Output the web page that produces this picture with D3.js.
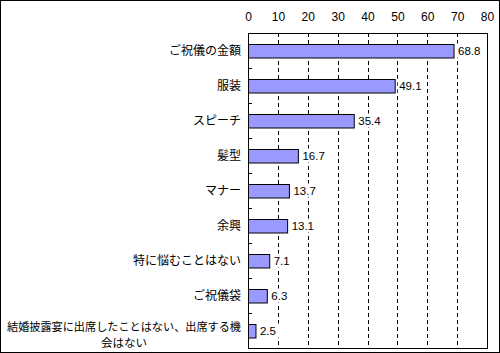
<!DOCTYPE html>
<html><head><meta charset="utf-8">
<script src="https://cdn.jsdelivr.net/npm/d3@7"></script>
<style>body{margin:0;background:#fff}svg{display:block}</style>
</head><body>
<script>
const categories = ["ご祝儀の金額","服装","スピーチ","髪型","マナー","余興","特に悩むことはない","ご祝儀袋","結婚披露宴に出席したことはない、出席する機会はない"];
const values = [68.8,49.1,35.4,16.7,13.7,13.1,7.1,6.3,2.5];
const tickValues = [0,10,20,30,40,50,60,70,80];

const W=500,H=353;
const m={left:248,right:487,top:33,bottom:348};
const svg=d3.select("body").append("svg").attr("width",W).attr("height",H);
svg.append("rect").attr("x",0.5).attr("y",0.5).attr("width",W-1).attr("height",H-1).attr("fill","#fff").attr("stroke","#000");

const x=d3.scaleLinear().domain([0,80]).range([m.left,m.right]);
const y=d3.scaleBand().domain(categories).range([m.top,m.bottom]).paddingInner(0).paddingOuter(0);

const jp="'Noto Sans CJK JP','Noto Sans',sans-serif";
const lat="'Liberation Sans',Arial,sans-serif";
// gridlines
svg.append("g").selectAll("line").data(tickValues.filter(v=>v>0&&v<80)).join("line")
 .attr("x1",d=>Math.round(x(d))+0.5).attr("x2",d=>Math.round(x(d))+0.5)
 .attr("y1",m.top).attr("y2",m.bottom).attr("stroke","#000").attr("stroke-dasharray","4,3");

// top axis labels
const ax=svg.append("g").attr("transform",`translate(0,${m.top})`).call(d3.axisTop(x).tickValues(tickValues).tickSize(0).tickPadding(12));
ax.select(".domain").remove();
ax.selectAll("text").attr("font-family",lat).attr("font-size",12).attr("fill","#000");

// left category ticks
svg.append("g").selectAll("line").data(categories.slice(1)).join("line")
 .attr("x1",m.left).attr("x2",m.left+4)
 .attr("y1",d=>Math.round(y(d))+0.5).attr("y2",d=>Math.round(y(d))+0.5).attr("stroke","#000");

// bars
const bh=13.5;
svg.append("g").selectAll("rect").data(values).join("rect")
 .attr("x",x(0)+0.5).attr("y",(d,i)=>Math.round(y(categories[i])+y.bandwidth()/2-bh/2)+0.5)
 .attr("width",d=>x(d)-x(0)).attr("height",bh)
 .attr("fill","#9999FF").attr("stroke","#000");

// value labels with white background
const vg=svg.append("g").selectAll("g").data(values).join("g")
 .attr("transform",(d,i)=>`translate(${x(d)+3},${y(categories[i])+y.bandwidth()/2})`);
vg.append("rect").attr("x",0).attr("y",-7).attr("height",14).attr("fill","#fff")
 .attr("width",d=>d.toFixed(1).length*6+3);
vg.append("text").attr("x",1.5).attr("y",4)
 .attr("font-family",lat).attr("font-size",11.5).attr("fill","#000")
 .text(d=>d.toFixed(1));

// category labels
const lab=svg.append("g");
categories.forEach((c,i)=>{
  const cy=y(c)+y.bandwidth()/2;
  if(c.length>15){
    const l1=c.slice(0,21), l2=c.slice(21);
    lab.append("text").attr("x",124).attr("y",cy+0.5).attr("text-anchor","middle")
      .attr("font-family",jp).attr("font-size",11.5).attr("fill","#000")
      .attr("textLength",234).attr("lengthAdjust","spacingAndGlyphs").text(l1);
    lab.append("text").attr("x",124).attr("y",cy+16.5).attr("text-anchor","middle")
      .attr("font-family",jp).attr("font-size",11.5).attr("fill","#000").text(l2);
  } else {
    lab.append("text").attr("x",241).attr("y",cy+4).attr("text-anchor","end")
      .attr("font-family",jp).attr("font-size",12).attr("fill","#000").text(c);
  }
});

// plot frame
svg.append("rect").attr("x",m.left+0.5).attr("y",m.top+0.5).attr("width",m.right-m.left).attr("height",m.bottom-m.top)
 .attr("fill","none").attr("stroke","#000");
</script>
</body></html>
